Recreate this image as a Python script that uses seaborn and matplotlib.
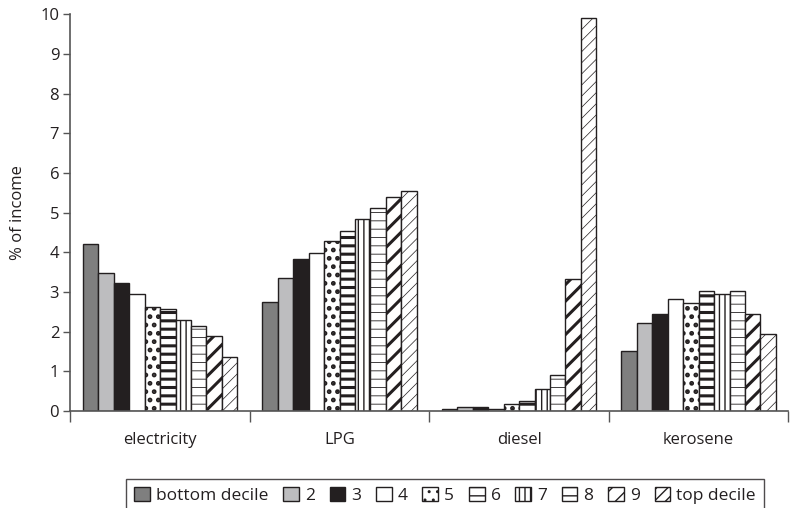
import matplotlib
matplotlib.use("Agg")
import matplotlib.pyplot as plt
from matplotlib.patches import Patch
import seaborn as sns
import pandas as pd

fuels = ["electricity", "LPG", "diesel", "kerosene"]
deciles = ["bottom decile", "2", "3", "4", "5", "6", "7", "8", "9", "top decile"]
electricity = [4.20, 3.48, 3.22, 2.95, 2.63, 2.57, 2.30, 2.15, 1.90, 1.37]
lpg = [2.75, 3.35, 3.83, 3.98, 4.28, 4.53, 4.83, 5.12, 5.40, 5.55]
diesel = [0.05, 0.10, 0.10, 0.05, 0.17, 0.25, 0.55, 0.90, 3.32, 9.90]
kerosene = [1.50, 2.22, 2.44, 2.82, 2.72, 3.03, 2.95, 3.02, 2.44, 1.93]
y_ticks = [0, 1, 2, 3, 4, 5, 6, 7, 8, 9, 10]

values = {"electricity": electricity, "LPG": lpg, "diesel": diesel, "kerosene": kerosene}
rows = []
for f in fuels:
    for d, v in zip(deciles, values[f]):
        rows.append({"fuel": f, "decile": d, "pct": v})
df = pd.DataFrame(rows)

face = ["#7f7f7f", "#bdbdbf", "#231f20", "white", "white", "white", "white", "white", "white", "white"]
hatches = [None, None, None, None, "..", "--", "|||", "--", "//", "///"]
hatch_lw = [1, 1, 1, 1, 2.2, 2.2, 1.0, 0.6, 2.2, 0.5]

sns.set_theme(style="white")
plt.rcParams["font.family"] = ["Open Sans", "DejaVu Sans"]
plt.rcParams["hatch.linewidth"] = 1.0

fig = plt.figure(figsize=(7.9, 5.08), dpi=100)
ax = fig.add_axes([0.089, 0.191, 0.909, 0.781])

sns.barplot(data=df, x="fuel", y="pct", hue="decile", order=fuels, hue_order=deciles,
            palette=face, saturation=1, width=0.86, edgecolor="#231f20", linewidth=1.0,
            ax=ax, legend=False)

for i, cont in enumerate(ax.containers):
    for p in cont.patches:
        if hatches[i]:
            p.set_hatch(hatches[i])
            if hasattr(p, "set_hatch_linewidth"):
                p.set_hatch_linewidth(hatch_lw[i])
        p.set_edgecolor("#231f20")

ax.set_ylim(0, 10)
ax.set_xlim(-0.5, 3.5)
ax.set_yticks(y_ticks)
ax.set_ylabel("% of income", fontsize=12, color="#231f20", labelpad=10)
ax.set_xlabel("")
ax.tick_params(axis="y", which="major", direction="out", length=5, width=1, color="#555555",
               labelsize=12, labelcolor="#231f20", pad=3, left=True)
ax.tick_params(axis="x", which="major", length=0, labelsize=12, labelcolor="#231f20", pad=15)
ax.set_xticks([-0.5, 0.5, 1.5, 2.5, 3.5], minor=True)
ax.tick_params(axis="x", which="minor", direction="out", length=8, width=1, color="#555555", bottom=True)
for s in ["top", "right"]:
    ax.spines[s].set_visible(False)
for s in ["left", "bottom"]:
    ax.spines[s].set_color("#555555")
    ax.spines[s].set_linewidth(1.2)

handles = []
for i in range(len(deciles)):
    h = Patch(facecolor=face[i], edgecolor="#231f20", linewidth=1.0, hatch=hatches[i])
    if hatches[i] and hasattr(h, "set_hatch_linewidth"):
        h.set_hatch_linewidth(min(hatch_lw[i], 1.2))
    handles.append(h)
leg = fig.legend(handles=handles, labels=deciles, loc="upper center",
                 bbox_to_anchor=(445 / 790, 1 - 479 / 508), ncol=10, frameon=True,
                 fontsize=12.5, handlelength=0.9, handleheight=0.9, handletextpad=0.35,
                 columnspacing=0.85, borderpad=0.45, fancybox=False, borderaxespad=0)
leg.get_frame().set_edgecolor("#231f20")
leg.get_frame().set_linewidth(1.0)
for t in leg.get_texts():
    t.set_color("#231f20")

fig.savefig("out.png", dpi=100)
